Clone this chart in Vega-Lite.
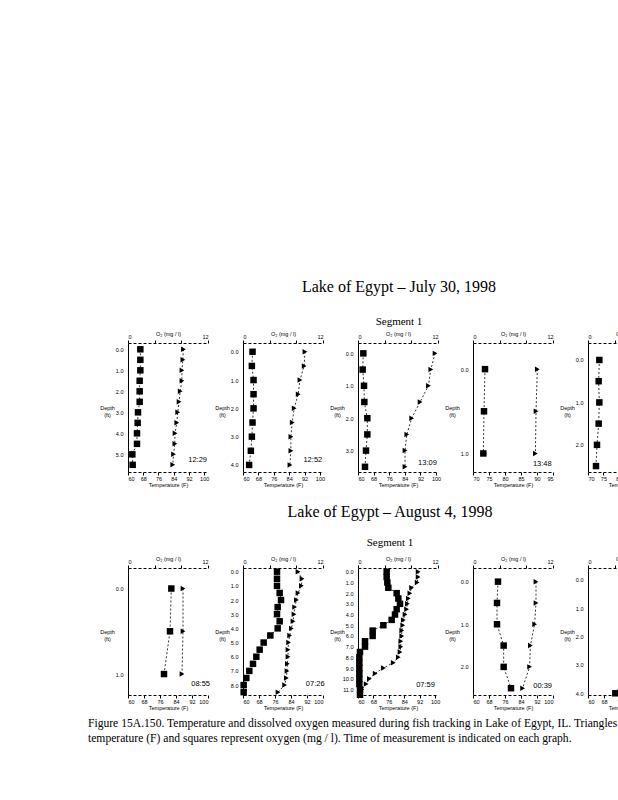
{
  "$schema": "https://vega.github.io/schema/vega-lite/v6.json",
  "background": "white",
  "padding": {"left": 88, "top": 279, "right": 0, "bottom": 0},
  "title": {
    "text": ["Figure 15A.150. Temperature and dissolved oxygen measured during fish tracking in Lake of Egypt, IL.  Triangles represent", "temperature (F)  and squares represent oxygen (mg / l). Time of measurement is indicated on each graph."],
    "orient": "bottom", "anchor": "start", "frame": "group", "dx": -40, "offset": 7,
    "font": "Liberation Serif", "fontSize": 11.6, "fontWeight": "normal", "lineHeight": 15, "color": "black"
  },
  "data": {"values": [
    {"panel":"r1p1","depth":0,"o2":1.85,"temp":89.1},{"panel":"r1p1","depth":0.5,"o2":1.85,"temp":88.8},{"panel":"r1p1","depth":1,"o2":1.85,"temp":88.3},{"panel":"r1p1","depth":1.5,"o2":1.75,"temp":88.3},{"panel":"r1p1","depth":2,"o2":1.75,"temp":87.4},{"panel":"r1p1","depth":2.5,"o2":1.75,"temp":86.8},{"panel":"r1p1","depth":3,"o2":1.5,"temp":86.1},{"panel":"r1p1","depth":3.5,"o2":1.45,"temp":85.6},{"panel":"r1p1","depth":4,"o2":1.35,"temp":84.7},{"panel":"r1p1","depth":4.5,"o2":1.35,"temp":84.6},{"panel":"r1p1","depth":5,"o2":0.65,"temp":83.9},{"panel":"r1p1","depth":5.5,"o2":0.7,"temp":83.5},
    {"panel":"r1p2","depth":0,"o2":1.43,"temp":92.2},{"panel":"r1p2","depth":0.5,"o2":1.33,"temp":91.8},{"panel":"r1p2","depth":1,"o2":1.58,"temp":89.6},{"panel":"r1p2","depth":1.5,"o2":1.58,"temp":88.7},{"panel":"r1p2","depth":2,"o2":1.58,"temp":86.6},{"panel":"r1p2","depth":2.5,"o2":1.43,"temp":85.6},{"panel":"r1p2","depth":3,"o2":1.33,"temp":84.9},{"panel":"r1p2","depth":3.5,"o2":1.18,"temp":84.9},{"panel":"r1p2","depth":4,"o2":0.92,"temp":84.4},
    {"panel":"r1p3","depth":0,"o2":0.8,"temp":99.5},{"panel":"r1p3","depth":0.5,"o2":0.7,"temp":97.3},{"panel":"r1p3","depth":1,"o2":0.9,"temp":96.1},{"panel":"r1p3","depth":1.5,"o2":0.95,"temp":91.8},{"panel":"r1p3","depth":2,"o2":1.4,"temp":87.5},{"panel":"r1p3","depth":2.5,"o2":1.4,"temp":85},{"panel":"r1p3","depth":3,"o2":1.2,"temp":84.1},{"panel":"r1p3","depth":3.5,"o2":1.05,"temp":84.1},
    {"panel":"r1p4","depth":0,"o2":1.8,"temp":90.1},{"panel":"r1p4","depth":0.5,"o2":1.65,"temp":89.7},{"panel":"r1p4","depth":1,"o2":1.55,"temp":89.5},
    {"panel":"r1p5","depth":0,"o2":1.7,"temp":88.5},{"panel":"r1p5","depth":0.5,"o2":1.6,"temp":88.3},{"panel":"r1p5","depth":1,"o2":1.7,"temp":88},{"panel":"r1p5","depth":1.5,"o2":1.6,"temp":87.5},{"panel":"r1p5","depth":2,"o2":1.35,"temp":86.8},{"panel":"r1p5","depth":2.5,"o2":1.2,"temp":86},
    {"panel":"r2p1","depth":0,"o2":6.5,"temp":87.5},{"panel":"r2p1","depth":0.5,"o2":6.3,"temp":87.5},{"panel":"r2p1","depth":1,"o2":5.4,"temp":87.0},
    {"panel":"r2p2","depth":0,"o2":5.1,"temp":87.5},{"panel":"r2p2","depth":0.5,"o2":5.1,"temp":89.5},{"panel":"r2p2","depth":1,"o2":5.1,"temp":89.2},{"panel":"r2p2","depth":1.5,"o2":5.5,"temp":87.5},{"panel":"r2p2","depth":2,"o2":5.7,"temp":86.7},{"panel":"r2p2","depth":2.5,"o2":5.2,"temp":85.8},{"panel":"r2p2","depth":3,"o2":5.1,"temp":85.5},{"panel":"r2p2","depth":3.5,"o2":5.5,"temp":85},{"panel":"r2p2","depth":4,"o2":5.2,"temp":84.2},{"panel":"r2p2","depth":4.5,"o2":4.1,"temp":83.3},{"panel":"r2p2","depth":5,"o2":3.1,"temp":82.8},{"panel":"r2p2","depth":5.5,"o2":2.5,"temp":82.5},{"panel":"r2p2","depth":6,"o2":2.0,"temp":82.5},{"panel":"r2p2","depth":6.5,"o2":1.5,"temp":82.2},{"panel":"r2p2","depth":7,"o2":0.95,"temp":82},{"panel":"r2p2","depth":7.5,"o2":0.5,"temp":81.7},{"panel":"r2p2","depth":8,"o2":0.1,"temp":80.8},{"panel":"r2p2","depth":8.5,"o2":0.1,"temp":77.5},
    {"panel":"r2p3","depth":0,"o2":4.3,"temp":91.2},{"panel":"r2p3","depth":0.5,"o2":4.3,"temp":91.2},{"panel":"r2p3","depth":1,"o2":4.4,"temp":90.7},{"panel":"r2p3","depth":1.5,"o2":4.55,"temp":87.8},{"panel":"r2p3","depth":2,"o2":5.8,"temp":86.9},{"panel":"r2p3","depth":2.5,"o2":6.05,"temp":86.1},{"panel":"r2p3","depth":3,"o2":6.3,"temp":85.6},{"panel":"r2p3","depth":3.5,"o2":5.8,"temp":85.2},{"panel":"r2p3","depth":4,"o2":5.55,"temp":84.4},{"panel":"r2p3","depth":4.5,"o2":5.05,"temp":83.5},{"panel":"r2p3","depth":5,"o2":3.8,"temp":83.2},{"panel":"r2p3","depth":5.5,"o2":2.2,"temp":82.7},{"panel":"r2p3","depth":6,"o2":2.2,"temp":82.7},{"panel":"r2p3","depth":6.5,"o2":1.05,"temp":82.2},{"panel":"r2p3","depth":7,"o2":1.05,"temp":82.2},{"panel":"r2p3","depth":7.5,"o2":0.3,"temp":81.8},{"panel":"r2p3","depth":8,"o2":0.2,"temp":80.9},{"panel":"r2p3","depth":8.5,"o2":0.2,"temp":78.3},{"panel":"r2p3","depth":9,"o2":0.2,"temp":73.2},{"panel":"r2p3","depth":9.5,"o2":0.2,"temp":68.9},{"panel":"r2p3","depth":10,"o2":0.2,"temp":65.9},{"panel":"r2p3","depth":10.5,"o2":0.2,"temp":64.2},{"panel":"r2p3","depth":11,"o2":0.3,"temp":62},{"panel":"r2p3","depth":11.5,"o2":0.3,"temp":60.7},
    {"panel":"r2p4","depth":0,"o2":3.75,"temp":91.5},{"panel":"r2p4","depth":0.5,"o2":3.6,"temp":91.5},{"panel":"r2p4","depth":1,"o2":3.6,"temp":90.8},{"panel":"r2p4","depth":1.5,"o2":4.6,"temp":88.7},{"panel":"r2p4","depth":2,"o2":4.6,"temp":88.3},{"panel":"r2p4","depth":2.5,"o2":5.7,"temp":84.8},
    {"panel":"r2p5","depth":0,"o2":7.2,"temp":87},{"panel":"r2p5","depth":0.5,"o2":7.2,"temp":87},{"panel":"r2p5","depth":1,"o2":7.1,"temp":86.8},{"panel":"r2p5","depth":1.5,"o2":7.0,"temp":86.5},{"panel":"r2p5","depth":2,"o2":6.9,"temp":86},{"panel":"r2p5","depth":2.5,"o2":6.8,"temp":85.5},{"panel":"r2p5","depth":3,"o2":6.5,"temp":85},{"panel":"r2p5","depth":3.5,"o2":5.5,"temp":84},{"panel":"r2p5","depth":4,"o2":4.1,"temp":83}
  ]},
  "columns": 5,
  "bounds": "flush",
  "spacing": {"row": 96, "column": 35},
  "concat": [
    {
      "width": 80, "height": 129,
      "transform": [{"filter": "datum.panel == 'r1p1'"}],
      "layer": [
        {"encoding": {"x": {"field": "o2", "type": "quantitative", "scale": {"domain": [0, 12], "nice": false, "zero": false},
          "axis": {"orient": "top", "values": [0,4,8,12], "labelExpr": "datum.value == 0 || datum.value == 12 ? datum.label : ''", "tickSize": 3, "labelPadding": 1, "domainDash": [3,2], "title": "O₂ (mg / l)", "titlePadding": -2}},
          "y": {"field": "depth", "type": "quantitative", "scale": {"domain": [-0.3, 5.84], "reverse": true, "nice": false, "zero": false},
            "axis": {"values": [0,1,2,3,4,5], "format": ".1f", "ticks": false, "labelPadding": 5, "title": ["Depth", "(ft)"], "titleAngle": 0, "titleX": -21, "titleY": 64, "titleAlign": "center", "titleBaseline": "middle"}}},
         "layer": [
           {"mark": {"type": "line", "strokeDash": [2,2], "strokeWidth": 0.8, "color": "black"}, "encoding": {"order": {"field": "depth", "type": "quantitative"}}},
           {"mark": {"type": "point", "shape": "square", "filled": true, "size": 42, "color": "black", "opacity": 1}}
         ]},
        {"encoding": {"x": {"field": "temp", "type": "quantitative", "scale": {"domain": [60, 102], "nice": false, "zero": false},
          "axis": {"orient": "bottom", "values": [60,68,76,84,92,100], "tickSize": 3, "labelPadding": 1, "domainDash": [3,2], "title": "Temperature (F)", "titlePadding": 1}},
          "y": {"field": "depth", "type": "quantitative", "scale": {"domain": [-0.3, 5.84], "reverse": true, "nice": false, "zero": false},
            "axis": {"values": [0,1,2,3,4,5], "format": ".1f", "ticks": false, "labelPadding": 5, "title": ["Depth", "(ft)"], "titleAngle": 0, "titleX": -21, "titleY": 64, "titleAlign": "center", "titleBaseline": "middle"}}},
         "layer": [
           {"mark": {"type": "line", "strokeDash": [2,2], "strokeWidth": 0.8, "color": "black"}, "encoding": {"order": {"field": "depth", "type": "quantitative"}}},
           {"mark": {"type": "point", "shape": "triangle-right", "filled": true, "size": 30, "color": "black", "opacity": 1}}
         ]},
        {"transform": [{"aggregate": [{"op": "count", "as": "n"}]}], "mark": {"type": "text", "text": "12:29", "align": "right", "baseline": "middle", "fontSize": 7.5, "font": "Liberation Sans", "fill": "black"},
         "encoding": {"x": {"datum": 101.5, "type": "quantitative", "scale": {"domain": [60, 102], "nice": false, "zero": false}, "axis": null},
           "y": {"datum": 5.27, "type": "quantitative", "scale": {"domain": [-0.3, 5.84], "reverse": true, "nice": false, "zero": false},
             "axis": {"values": [0,1,2,3,4,5], "format": ".1f", "ticks": false, "labelPadding": 5, "title": ["Depth", "(ft)"], "titleAngle": 0, "titleX": -21, "titleY": 64, "titleAlign": "center", "titleBaseline": "middle"}}}}
      ],
      "resolve": {"scale": {"x": "independent"}, "axis": {"x": "independent"}}
    },
    {
      "width": 80, "height": 129,
      "transform": [{"filter": "datum.panel == 'r1p2'"}],
      "layer": [
        {"encoding": {"x": {"field": "o2", "type": "quantitative", "scale": {"domain": [0, 12], "nice": false, "zero": false},
          "axis": {"orient": "top", "values": [0,4,8,12], "labelExpr": "datum.value == 0 || datum.value == 12 ? datum.label : ''", "tickSize": 3, "labelPadding": 1, "domainDash": [3,2], "title": "O₂ (mg / l)", "titlePadding": -2}},
          "y": {"field": "depth", "type": "quantitative", "scale": {"domain": [-0.31, 4.25], "reverse": true, "nice": false, "zero": false},
            "axis": {"values": [0,1,2,3,4], "format": ".1f", "ticks": false, "labelPadding": 5, "title": ["Depth", "(ft)"], "titleAngle": 0, "titleX": -21, "titleY": 64, "titleAlign": "center", "titleBaseline": "middle"}}},
         "layer": [
           {"mark": {"type": "line", "strokeDash": [2,2], "strokeWidth": 0.8, "color": "black"}, "encoding": {"order": {"field": "depth", "type": "quantitative"}}},
           {"mark": {"type": "point", "shape": "square", "filled": true, "size": 42, "color": "black", "opacity": 1}}
         ]},
        {"encoding": {"x": {"field": "temp", "type": "quantitative", "scale": {"domain": [60, 101.6], "nice": false, "zero": false},
          "axis": {"orient": "bottom", "values": [60,68,76,84,92,100], "tickSize": 3, "labelPadding": 1, "domainDash": [3,2], "title": "Temperature (F)", "titlePadding": 1}},
          "y": {"field": "depth", "type": "quantitative", "scale": {"domain": [-0.31, 4.25], "reverse": true, "nice": false, "zero": false},
            "axis": {"values": [0,1,2,3,4], "format": ".1f", "ticks": false, "labelPadding": 5, "title": ["Depth", "(ft)"], "titleAngle": 0, "titleX": -21, "titleY": 64, "titleAlign": "center", "titleBaseline": "middle"}}},
         "layer": [
           {"mark": {"type": "line", "strokeDash": [2,2], "strokeWidth": 0.8, "color": "black"}, "encoding": {"order": {"field": "depth", "type": "quantitative"}}},
           {"mark": {"type": "point", "shape": "triangle-right", "filled": true, "size": 30, "color": "black", "opacity": 1}}
         ]},
        {"transform": [{"aggregate": [{"op": "count", "as": "n"}]}], "mark": {"type": "text", "text": "12:52", "align": "right", "baseline": "middle", "fontSize": 7.5, "font": "Liberation Sans", "fill": "black"},
         "encoding": {"x": {"datum": 101.2, "type": "quantitative", "scale": {"domain": [60, 101.6], "nice": false, "zero": false}, "axis": null},
           "y": {"datum": 3.83, "type": "quantitative", "scale": {"domain": [-0.31, 4.25], "reverse": true, "nice": false, "zero": false},
             "axis": {"values": [0,1,2,3,4], "format": ".1f", "ticks": false, "labelPadding": 5, "title": ["Depth", "(ft)"], "titleAngle": 0, "titleX": -21, "titleY": 64, "titleAlign": "center", "titleBaseline": "middle"}}}}
      ],
      "resolve": {"scale": {"x": "independent"}, "axis": {"x": "independent"}}
    },
    {
      "width": 80, "height": 129,
      "title": {"text": "Lake of Egypt – July 30, 1998", "subtitle": "Segment 1", "anchor": "middle", "frame": "group", "dx": 1, "offset": 4,
        "font": "Liberation Serif", "fontSize": 16, "fontWeight": "normal", "color": "black",
        "subtitleFont": "Liberation Serif", "subtitleFontSize": 11, "subtitleColor": "black", "subtitlePadding": 21},
      "transform": [{"filter": "datum.panel == 'r1p3'"}],
      "layer": [
        {"encoding": {"x": {"field": "o2", "type": "quantitative", "scale": {"domain": [0, 12], "nice": false, "zero": false},
          "axis": {"orient": "top", "values": [0,4,8,12], "labelExpr": "datum.value == 0 || datum.value == 12 ? datum.label : ''", "tickSize": 3, "labelPadding": 1, "domainDash": [3,2], "title": "O₂ (mg / l)", "titlePadding": -2}},
          "y": {"field": "depth", "type": "quantitative", "scale": {"domain": [-0.32, 3.66], "reverse": true, "nice": false, "zero": false},
            "axis": {"values": [0,1,2,3], "format": ".1f", "ticks": false, "labelPadding": 5, "title": ["Depth", "(ft)"], "titleAngle": 0, "titleX": -21, "titleY": 64, "titleAlign": "center", "titleBaseline": "middle"}}},
         "layer": [
           {"mark": {"type": "line", "strokeDash": [2,2], "strokeWidth": 0.8, "color": "black"}, "encoding": {"order": {"field": "depth", "type": "quantitative"}}},
           {"mark": {"type": "point", "shape": "square", "filled": true, "size": 42, "color": "black", "opacity": 1}}
         ]},
        {"encoding": {"x": {"field": "temp", "type": "quantitative", "scale": {"domain": [60, 101], "nice": false, "zero": false},
          "axis": {"orient": "bottom", "values": [60,68,76,84,92,100], "tickSize": 3, "labelPadding": 1, "domainDash": [3,2], "title": "Temperature (F)", "titlePadding": 1}},
          "y": {"field": "depth", "type": "quantitative", "scale": {"domain": [-0.32, 3.66], "reverse": true, "nice": false, "zero": false},
            "axis": {"values": [0,1,2,3], "format": ".1f", "ticks": false, "labelPadding": 5, "title": ["Depth", "(ft)"], "titleAngle": 0, "titleX": -21, "titleY": 64, "titleAlign": "center", "titleBaseline": "middle"}}},
         "layer": [
           {"mark": {"type": "line", "strokeDash": [2,2], "strokeWidth": 0.8, "color": "black"}, "encoding": {"order": {"field": "depth", "type": "quantitative"}}},
           {"mark": {"type": "point", "shape": "triangle-right", "filled": true, "size": 30, "color": "black", "opacity": 1}}
         ]},
        {"transform": [{"aggregate": [{"op": "count", "as": "n"}]}], "mark": {"type": "text", "text": "13:09", "align": "right", "baseline": "middle", "fontSize": 7.5, "font": "Liberation Sans", "fill": "black"},
         "encoding": {"x": {"datum": 100.4, "type": "quantitative", "scale": {"domain": [60, 101], "nice": false, "zero": false}, "axis": null},
           "y": {"datum": 3.39, "type": "quantitative", "scale": {"domain": [-0.32, 3.66], "reverse": true, "nice": false, "zero": false},
             "axis": {"values": [0,1,2,3], "format": ".1f", "ticks": false, "labelPadding": 5, "title": ["Depth", "(ft)"], "titleAngle": 0, "titleX": -21, "titleY": 64, "titleAlign": "center", "titleBaseline": "middle"}}}}
      ],
      "resolve": {"scale": {"x": "independent"}, "axis": {"x": "independent"}}
    },
    {
      "width": 80, "height": 129,
      "transform": [{"filter": "datum.panel == 'r1p4'"}],
      "layer": [
        {"encoding": {"x": {"field": "o2", "type": "quantitative", "scale": {"domain": [0, 12], "nice": false, "zero": false},
          "axis": {"orient": "top", "values": [0,4,8,12], "labelExpr": "datum.value == 0 || datum.value == 12 ? datum.label : ''", "tickSize": 3, "labelPadding": 1, "domainDash": [3,2], "title": "O₂ (mg / l)", "titlePadding": -2}},
          "y": {"field": "depth", "type": "quantitative", "scale": {"domain": [-0.31, 1.22], "reverse": true, "nice": false, "zero": false},
            "axis": {"values": [0,1], "format": ".1f", "ticks": false, "labelPadding": 5, "title": ["Depth", "(ft)"], "titleAngle": 0, "titleX": -21, "titleY": 64, "titleAlign": "center", "titleBaseline": "middle"}}},
         "layer": [
           {"mark": {"type": "line", "strokeDash": [2,2], "strokeWidth": 0.8, "color": "black"}, "encoding": {"order": {"field": "depth", "type": "quantitative"}}},
           {"mark": {"type": "point", "shape": "square", "filled": true, "size": 42, "color": "black", "opacity": 1}}
         ]},
        {"encoding": {"x": {"field": "temp", "type": "quantitative", "scale": {"domain": [70, 95], "nice": false, "zero": false},
          "axis": {"orient": "bottom", "values": [70,75,80,85,90,95], "tickSize": 3, "labelPadding": 1, "domainDash": [3,2], "title": "Temperature (F)", "titlePadding": 1}},
          "y": {"field": "depth", "type": "quantitative", "scale": {"domain": [-0.31, 1.22], "reverse": true, "nice": false, "zero": false},
            "axis": {"values": [0,1], "format": ".1f", "ticks": false, "labelPadding": 5, "title": ["Depth", "(ft)"], "titleAngle": 0, "titleX": -21, "titleY": 64, "titleAlign": "center", "titleBaseline": "middle"}}},
         "layer": [
           {"mark": {"type": "line", "strokeDash": [2,2], "strokeWidth": 0.8, "color": "black"}, "encoding": {"order": {"field": "depth", "type": "quantitative"}}},
           {"mark": {"type": "point", "shape": "triangle-right", "filled": true, "size": 30, "color": "black", "opacity": 1}}
         ]},
        {"transform": [{"aggregate": [{"op": "count", "as": "n"}]}], "mark": {"type": "text", "text": "13:48", "align": "right", "baseline": "middle", "fontSize": 7.5, "font": "Liberation Sans", "fill": "black"},
         "encoding": {"x": {"datum": 94.6, "type": "quantitative", "scale": {"domain": [70, 95], "nice": false, "zero": false}, "axis": null},
           "y": {"datum": 1.12, "type": "quantitative", "scale": {"domain": [-0.31, 1.22], "reverse": true, "nice": false, "zero": false},
             "axis": {"values": [0,1], "format": ".1f", "ticks": false, "labelPadding": 5, "title": ["Depth", "(ft)"], "titleAngle": 0, "titleX": -21, "titleY": 64, "titleAlign": "center", "titleBaseline": "middle"}}}}
      ],
      "resolve": {"scale": {"x": "independent"}, "axis": {"x": "independent"}}
    },
    {
      "width": 80, "height": 129,
      "transform": [{"filter": "datum.panel == 'r1p5'"}],
      "encoding": {"y": {"field": "depth", "type": "quantitative", "scale": {"domain": [-0.4, 2.64], "reverse": true, "nice": false, "zero": false},
        "axis": {"values": [0,1,2], "format": ".1f", "ticks": false, "labelPadding": 5, "title": ["Depth", "(ft)"], "titleAngle": 0, "titleX": -21, "titleY": 64, "titleAlign": "center", "titleBaseline": "middle"}}},
      "layer": [
        {"encoding": {"x": {"field": "o2", "type": "quantitative", "scale": {"domain": [0, 12], "nice": false, "zero": false},
          "axis": {"orient": "top", "values": [0,4,8,12], "labelExpr": "datum.value == 0 || datum.value == 12 ? datum.label : ''", "tickSize": 3, "labelPadding": 1, "domainDash": [3,2], "title": "O₂ (mg / l)", "titlePadding": -2}}},
         "layer": [
           {"mark": {"type": "line", "strokeDash": [2,2], "strokeWidth": 0.8, "color": "black"}, "encoding": {"order": {"field": "depth", "type": "quantitative"}}},
           {"mark": {"type": "point", "shape": "square", "filled": true, "size": 42, "color": "black", "opacity": 1}}
         ]},
        {"encoding": {"x": {"field": "temp", "type": "quantitative", "scale": {"domain": [70, 96], "nice": false, "zero": false},
          "axis": {"orient": "bottom", "values": [70,75,80,85,90,95], "tickSize": 3, "labelPadding": 1, "domainDash": [3,2], "title": "Temperature (F)", "titlePadding": 1}}},
         "layer": [
           {"mark": {"type": "line", "strokeDash": [2,2], "strokeWidth": 0.8, "color": "black"}, "encoding": {"order": {"field": "depth", "type": "quantitative"}}},
           {"mark": {"type": "point", "shape": "triangle-right", "filled": true, "size": 30, "color": "black", "opacity": 1}}
         ]}
      ],
      "resolve": {"scale": {"x": "independent"}, "axis": {"x": "independent"}}
    },
    {
      "width": 80, "height": 127,
      "transform": [{"filter": "datum.panel == 'r2p1'"}],
      "layer": [
        {"encoding": {"x": {"field": "o2", "type": "quantitative", "scale": {"domain": [0, 12], "nice": false, "zero": false},
          "axis": {"orient": "top", "values": [0,4,8,12], "labelExpr": "datum.value == 0 || datum.value == 12 ? datum.label : ''", "tickSize": 3, "labelPadding": 1, "domainDash": [3,2], "title": "O₂ (mg / l)", "titlePadding": -2}},
          "y": {"field": "depth", "type": "quantitative", "scale": {"domain": [-0.24, 1.245], "reverse": true, "nice": false, "zero": false},
            "axis": {"values": [0,1], "format": ".1f", "ticks": false, "labelPadding": 5, "title": ["Depth", "(ft)"], "titleAngle": 0, "titleX": -21, "titleY": 63, "titleAlign": "center", "titleBaseline": "middle"}}},
         "layer": [
           {"mark": {"type": "line", "strokeDash": [2,2], "strokeWidth": 0.8, "color": "black"}, "encoding": {"order": {"field": "depth", "type": "quantitative"}}},
           {"mark": {"type": "point", "shape": "square", "filled": true, "size": 42, "color": "black", "opacity": 1}}
         ]},
        {"encoding": {"x": {"field": "temp", "type": "quantitative", "scale": {"domain": [60, 100], "nice": false, "zero": false},
          "axis": {"orient": "bottom", "values": [60,68,76,84,92,100], "tickSize": 3, "labelPadding": 1, "domainDash": [3,2], "title": "Temperature (F)", "titlePadding": 1}},
          "y": {"field": "depth", "type": "quantitative", "scale": {"domain": [-0.24, 1.245], "reverse": true, "nice": false, "zero": false},
            "axis": {"values": [0,1], "format": ".1f", "ticks": false, "labelPadding": 5, "title": ["Depth", "(ft)"], "titleAngle": 0, "titleX": -21, "titleY": 63, "titleAlign": "center", "titleBaseline": "middle"}}},
         "layer": [
           {"mark": {"type": "line", "strokeDash": [2,2], "strokeWidth": 0.8, "color": "black"}, "encoding": {"order": {"field": "depth", "type": "quantitative"}}},
           {"mark": {"type": "point", "shape": "triangle-right", "filled": true, "size": 30, "color": "black", "opacity": 1}}
         ]},
        {"transform": [{"aggregate": [{"op": "count", "as": "n"}]}], "mark": {"type": "text", "text": "08:55", "align": "right", "baseline": "middle", "fontSize": 7.5, "font": "Liberation Sans", "fill": "black"},
         "encoding": {"x": {"datum": 101, "type": "quantitative", "scale": {"domain": [60, 100], "nice": false, "zero": false}, "axis": null},
           "y": {"datum": 1.12, "type": "quantitative", "scale": {"domain": [-0.24, 1.245], "reverse": true, "nice": false, "zero": false},
             "axis": {"values": [0,1], "format": ".1f", "ticks": false, "labelPadding": 5, "title": ["Depth", "(ft)"], "titleAngle": 0, "titleX": -21, "titleY": 63, "titleAlign": "center", "titleBaseline": "middle"}}}}
      ],
      "resolve": {"scale": {"x": "independent"}, "axis": {"x": "independent"}}
    },
    {
      "width": 80, "height": 127,
      "transform": [{"filter": "datum.panel == 'r2p2'"}],
      "layer": [
        {"encoding": {"x": {"field": "o2", "type": "quantitative", "scale": {"domain": [0, 12], "nice": false, "zero": false},
          "axis": {"orient": "top", "values": [0,4,8,12], "labelExpr": "datum.value == 0 || datum.value == 12 ? datum.label : ''", "tickSize": 3, "labelPadding": 1, "domainDash": [3,2], "title": "O₂ (mg / l)", "titlePadding": -2}},
          "y": {"field": "depth", "type": "quantitative", "scale": {"domain": [-0.26, 8.7], "reverse": true, "nice": false, "zero": false},
            "axis": {"values": [0,1,2,3,4,5,6,7,8], "format": ".1f", "ticks": false, "labelPadding": 5, "title": ["Depth", "(ft)"], "titleAngle": 0, "titleX": -21, "titleY": 63, "titleAlign": "center", "titleBaseline": "middle"}}},
         "layer": [
           {"mark": {"type": "line", "strokeDash": [2,2], "strokeWidth": 0.8, "color": "black"}, "encoding": {"order": {"field": "depth", "type": "quantitative"}}},
           {"mark": {"type": "point", "shape": "square", "filled": true, "size": 42, "color": "black", "opacity": 1}}
         ]},
        {"encoding": {"x": {"field": "temp", "type": "quantitative", "scale": {"domain": [60, 100], "nice": false, "zero": false},
          "axis": {"orient": "bottom", "values": [60,68,76,84,92,100], "tickSize": 3, "labelPadding": 1, "domainDash": [3,2], "title": "Temperature (F)", "titlePadding": 1}},
          "y": {"field": "depth", "type": "quantitative", "scale": {"domain": [-0.26, 8.7], "reverse": true, "nice": false, "zero": false},
            "axis": {"values": [0,1,2,3,4,5,6,7,8], "format": ".1f", "ticks": false, "labelPadding": 5, "title": ["Depth", "(ft)"], "titleAngle": 0, "titleX": -21, "titleY": 63, "titleAlign": "center", "titleBaseline": "middle"}}},
         "layer": [
           {"mark": {"type": "line", "strokeDash": [2,2], "strokeWidth": 0.8, "color": "black"}, "encoding": {"order": {"field": "depth", "type": "quantitative"}}},
           {"mark": {"type": "point", "shape": "triangle-right", "filled": true, "size": 30, "color": "black", "opacity": 1}}
         ]},
        {"transform": [{"aggregate": [{"op": "count", "as": "n"}]}], "mark": {"type": "text", "text": "07:26", "align": "right", "baseline": "middle", "fontSize": 7.5, "font": "Liberation Sans", "fill": "black"},
         "encoding": {"x": {"datum": 100.8, "type": "quantitative", "scale": {"domain": [60, 100], "nice": false, "zero": false}, "axis": null},
           "y": {"datum": 7.93, "type": "quantitative", "scale": {"domain": [-0.26, 8.7], "reverse": true, "nice": false, "zero": false},
             "axis": {"values": [0,1,2,3,4,5,6,7,8], "format": ".1f", "ticks": false, "labelPadding": 5, "title": ["Depth", "(ft)"], "titleAngle": 0, "titleX": -21, "titleY": 63, "titleAlign": "center", "titleBaseline": "middle"}}}}
      ],
      "resolve": {"scale": {"x": "independent"}, "axis": {"x": "independent"}}
    },
    {
      "width": 80, "height": 127,
      "title": {"text": "Lake of Egypt – August 4, 1998", "subtitle": "Segment 1", "anchor": "middle", "frame": "group", "dx": -8, "offset": 8,
        "font": "Liberation Serif", "fontSize": 16, "fontWeight": "normal", "color": "black",
        "subtitleFont": "Liberation Serif", "subtitleFontSize": 11, "subtitleColor": "black", "subtitlePadding": 17},
      "transform": [{"filter": "datum.panel == 'r2p3'"}],
      "layer": [
        {"encoding": {"x": {"field": "o2", "type": "quantitative", "scale": {"domain": [0, 12], "nice": false, "zero": false},
          "axis": {"orient": "top", "values": [0,4,8,12], "labelExpr": "datum.value == 0 || datum.value == 12 ? datum.label : ''", "tickSize": 3, "labelPadding": 1, "domainDash": [3,2], "title": "O₂ (mg / l)", "titlePadding": -2}},
          "y": {"field": "depth", "type": "quantitative", "scale": {"domain": [-0.35, 11.52], "reverse": true, "nice": false, "zero": false},
            "axis": {"values": [0,1,2,3,4,5,6,7,8,9,10,11], "format": ".1f", "ticks": false, "labelPadding": 5, "title": ["Depth", "(ft)"], "titleAngle": 0, "titleX": -21, "titleY": 63, "titleAlign": "center", "titleBaseline": "middle"}}},
         "layer": [
           {"mark": {"type": "line", "strokeDash": [2,2], "strokeWidth": 0.8, "color": "black"}, "encoding": {"order": {"field": "depth", "type": "quantitative"}}},
           {"mark": {"type": "point", "shape": "square", "filled": true, "size": 42, "color": "black", "opacity": 1}}
         ]},
        {"encoding": {"x": {"field": "temp", "type": "quantitative", "scale": {"domain": [60, 101.5], "nice": false, "zero": false},
          "axis": {"orient": "bottom", "values": [60,68,76,84,92,100], "tickSize": 3, "labelPadding": 1, "domainDash": [3,2], "title": "Temperature (F)", "titlePadding": 1}},
          "y": {"field": "depth", "type": "quantitative", "scale": {"domain": [-0.35, 11.52], "reverse": true, "nice": false, "zero": false},
            "axis": {"values": [0,1,2,3,4,5,6,7,8,9,10,11], "format": ".1f", "ticks": false, "labelPadding": 5, "title": ["Depth", "(ft)"], "titleAngle": 0, "titleX": -21, "titleY": 63, "titleAlign": "center", "titleBaseline": "middle"}}},
         "layer": [
           {"mark": {"type": "line", "strokeDash": [2,2], "strokeWidth": 0.8, "color": "black"}, "encoding": {"order": {"field": "depth", "type": "quantitative"}}},
           {"mark": {"type": "point", "shape": "triangle-right", "filled": true, "size": 30, "color": "black", "opacity": 1}}
         ]},
        {"transform": [{"aggregate": [{"op": "count", "as": "n"}]}], "mark": {"type": "text", "text": "07:59", "align": "right", "baseline": "middle", "fontSize": 7.5, "font": "Liberation Sans", "fill": "black"},
         "encoding": {"x": {"datum": 99.9, "type": "quantitative", "scale": {"domain": [60, 101.5], "nice": false, "zero": false}, "axis": null},
           "y": {"datum": 10.6, "type": "quantitative", "scale": {"domain": [-0.35, 11.52], "reverse": true, "nice": false, "zero": false},
             "axis": {"values": [0,1,2,3,4,5,6,7,8,9,10,11], "format": ".1f", "ticks": false, "labelPadding": 5, "title": ["Depth", "(ft)"], "titleAngle": 0, "titleX": -21, "titleY": 63, "titleAlign": "center", "titleBaseline": "middle"}}}}
      ],
      "resolve": {"scale": {"x": "independent"}, "axis": {"x": "independent"}}
    },
    {
      "width": 80, "height": 127,
      "transform": [{"filter": "datum.panel == 'r2p4'"}],
      "layer": [
        {"encoding": {"x": {"field": "o2", "type": "quantitative", "scale": {"domain": [0, 12], "nice": false, "zero": false},
          "axis": {"orient": "top", "values": [0,4,8,12], "labelExpr": "datum.value == 0 || datum.value == 12 ? datum.label : ''", "tickSize": 3, "labelPadding": 1, "domainDash": [3,2], "title": "O₂ (mg / l)", "titlePadding": -2}},
          "y": {"field": "depth", "type": "quantitative", "scale": {"domain": [-0.32, 2.66], "reverse": true, "nice": false, "zero": false},
            "axis": {"values": [0,1,2], "format": ".1f", "ticks": false, "labelPadding": 5, "title": ["Depth", "(ft)"], "titleAngle": 0, "titleX": -21, "titleY": 63, "titleAlign": "center", "titleBaseline": "middle"}}},
         "layer": [
           {"mark": {"type": "line", "strokeDash": [2,2], "strokeWidth": 0.8, "color": "black"}, "encoding": {"order": {"field": "depth", "type": "quantitative"}}},
           {"mark": {"type": "point", "shape": "square", "filled": true, "size": 42, "color": "black", "opacity": 1}}
         ]},
        {"encoding": {"x": {"field": "temp", "type": "quantitative", "scale": {"domain": [60, 100], "nice": false, "zero": false},
          "axis": {"orient": "bottom", "values": [60,68,76,84,92,100], "tickSize": 3, "labelPadding": 1, "domainDash": [3,2], "title": "Temperature (F)", "titlePadding": 1}},
          "y": {"field": "depth", "type": "quantitative", "scale": {"domain": [-0.32, 2.66], "reverse": true, "nice": false, "zero": false},
            "axis": {"values": [0,1,2], "format": ".1f", "ticks": false, "labelPadding": 5, "title": ["Depth", "(ft)"], "titleAngle": 0, "titleX": -21, "titleY": 63, "titleAlign": "center", "titleBaseline": "middle"}}},
         "layer": [
           {"mark": {"type": "line", "strokeDash": [2,2], "strokeWidth": 0.8, "color": "black"}, "encoding": {"order": {"field": "depth", "type": "quantitative"}}},
           {"mark": {"type": "point", "shape": "triangle-right", "filled": true, "size": 30, "color": "black", "opacity": 1}}
         ]},
        {"transform": [{"aggregate": [{"op": "count", "as": "n"}]}], "mark": {"type": "text", "text": "00:39", "align": "right", "baseline": "middle", "fontSize": 7.5, "font": "Liberation Sans", "fill": "black"},
         "encoding": {"x": {"datum": 99.5, "type": "quantitative", "scale": {"domain": [60, 100], "nice": false, "zero": false}, "axis": null},
           "y": {"datum": 2.45, "type": "quantitative", "scale": {"domain": [-0.32, 2.66], "reverse": true, "nice": false, "zero": false},
             "axis": {"values": [0,1,2], "format": ".1f", "ticks": false, "labelPadding": 5, "title": ["Depth", "(ft)"], "titleAngle": 0, "titleX": -21, "titleY": 63, "titleAlign": "center", "titleBaseline": "middle"}}}}
      ],
      "resolve": {"scale": {"x": "independent"}, "axis": {"x": "independent"}}
    },
    {
      "width": 80, "height": 127,
      "transform": [{"filter": "datum.panel == 'r2p5'"}],
      "encoding": {"y": {"field": "depth", "type": "quantitative", "scale": {"domain": [-0.42, 4.06], "reverse": true, "nice": false, "zero": false},
        "axis": {"values": [0,1,2,3,4], "format": ".1f", "ticks": false, "labelPadding": 5, "title": ["Depth", "(ft)"], "titleAngle": 0, "titleX": -21, "titleY": 63, "titleAlign": "center", "titleBaseline": "middle"}}},
      "layer": [
        {"encoding": {"x": {"field": "o2", "type": "quantitative", "scale": {"domain": [0, 12], "nice": false, "zero": false},
          "axis": {"orient": "top", "values": [0,4,8,12], "labelExpr": "datum.value == 0 || datum.value == 12 ? datum.label : ''", "tickSize": 3, "labelPadding": 1, "domainDash": [3,2], "title": "O₂ (mg / l)", "titlePadding": -2}}},
         "layer": [
           {"mark": {"type": "line", "strokeDash": [2,2], "strokeWidth": 0.8, "color": "black"}, "encoding": {"order": {"field": "depth", "type": "quantitative"}}},
           {"mark": {"type": "point", "shape": "square", "filled": true, "size": 42, "color": "black", "opacity": 1}}
         ]},
        {"encoding": {"x": {"field": "temp", "type": "quantitative", "scale": {"domain": [60, 100], "nice": false, "zero": false},
          "axis": {"orient": "bottom", "values": [60,68,76,84,92,100], "tickSize": 3, "labelPadding": 1, "domainDash": [3,2], "title": "Temperature (F)", "titlePadding": 1}}},
         "layer": [
           {"mark": {"type": "line", "strokeDash": [2,2], "strokeWidth": 0.8, "color": "black"}, "encoding": {"order": {"field": "depth", "type": "quantitative"}}},
           {"mark": {"type": "point", "shape": "triangle-right", "filled": true, "size": 30, "color": "black", "opacity": 1}}
         ]}
      ],
      "resolve": {"scale": {"x": "independent"}, "axis": {"x": "independent"}}
    }
  ],
  "config": {
    "view": {"stroke": null},
    "axis": {"labelFont": "Liberation Sans", "labelFontSize": 5.5, "titleFont": "Liberation Sans", "titleFontSize": 5.5, "titleFontWeight": "normal",
      "labelColor": "black", "titleColor": "black", "tickColor": "black", "domainColor": "black", "grid": false, "labelOverlap": false}
  }
}
